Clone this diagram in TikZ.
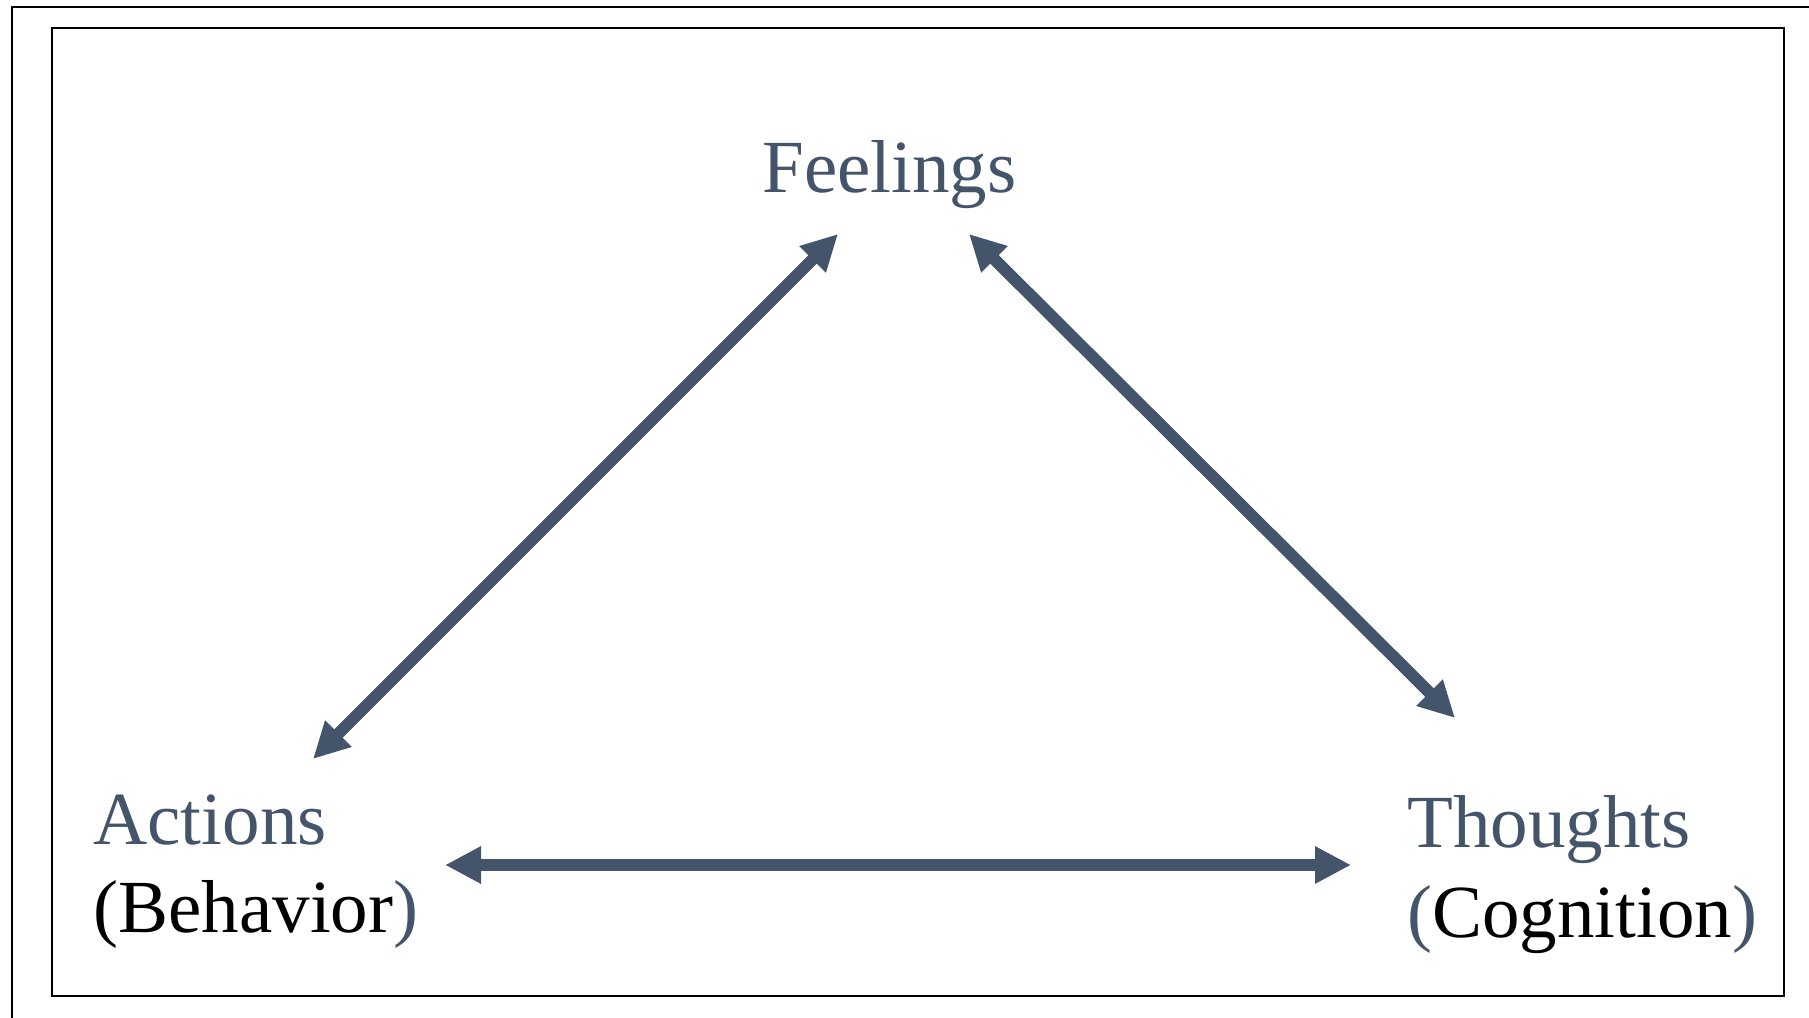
\documentclass[tikz,border=0pt]{standalone}
\usepackage{fontspec}
\setmainfont{Liberation Serif}
\usetikzlibrary{arrows.meta}
\definecolor{slateblue}{HTML}{44546A}

\begin{document}
\begin{tikzpicture}[x=0.5pt, y=0.5pt,
    lbl/.style={inner sep=0pt, anchor=base west, text=slateblue,
                font=\fontsize{37.5}{45}\selectfont},
    link/.style={>={Triangle[length=18pt, width=17.5pt]}, <->,
                 draw=slateblue, line width=6pt}]
  \useasboundingbox (0,0) rectangle (1809,1017);
  % frames
  \draw[line width=1pt] (12,1010) rectangle (1860,-40);
  \draw[line width=1pt] (52,989) rectangle (1784,21);
  % labels
  \node[lbl] (feel) at (762,824) {Feelings};
  \node[lbl] (act) at (93,172) {Actions};
  \node[lbl] (beh) at (93,84) {\textcolor{black}{(Behavior})};
  \node[lbl] (thou) at (1407,169) {Thoughts};
  \node[lbl] (cog) at (1407,79) {(\textcolor{black}{Cognition})};
  % links
  \draw[link] ([xshift=110pt, yshift=43pt]act.base west)
    -- ([xshift=38pt, yshift=-20.5pt]feel.base west);
  \draw[link] ([xshift=103.5pt, yshift=-20.5pt]feel.base west)
    -- ([xshift=24pt, yshift=65pt]thou.base west);
  \draw[link] ([xshift=176pt, yshift=34pt]beh.base west)
    -- ([xshift=-28pt, yshift=36.5pt]cog.base west);
\end{tikzpicture}
\end{document}
